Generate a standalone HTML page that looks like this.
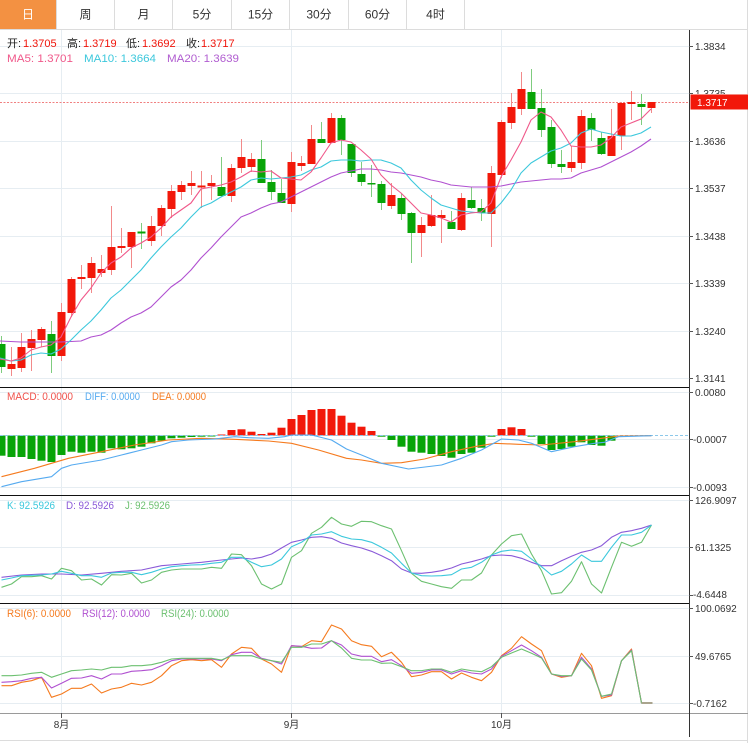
<!DOCTYPE html>
<html><head><meta charset="utf-8"><style>
html,body{margin:0;padding:0;background:#fff;width:748px;height:743px;overflow:hidden}
svg{display:block}
text{font-family:"Liberation Sans","Noto Sans CJK SC",sans-serif}
</style></head><body>
<svg width="748" height="743" viewBox="0 0 748 743" xmlns="http://www.w3.org/2000/svg">
<rect x="0" y="0" width="748" height="743" fill="#fff"/>
<!-- tabs -->
<rect x="0" y="0" width="56.5" height="29" fill="#f39142"/>
<g stroke="#dcdcdc" stroke-width="1">
<line x1="56.5" y1="0" x2="56.5" y2="29"/><line x1="114.5" y1="0" x2="114.5" y2="29"/><line x1="172.5" y1="0" x2="172.5" y2="29"/><line x1="231.5" y1="0" x2="231.5" y2="29"/><line x1="289.5" y1="0" x2="289.5" y2="29"/><line x1="348.5" y1="0" x2="348.5" y2="29"/><line x1="406.5" y1="0" x2="406.5" y2="29"/><line x1="464.5" y1="0" x2="464.5" y2="29"/>
<line x1="0" y1="29.5" x2="748" y2="29.5"/>
<line x1="747.5" y1="0" x2="747.5" y2="743"/>
<line x1="0" y1="740.5" x2="748" y2="740.5"/>
</g>
<g font-size="12" text-anchor="middle" fill="#333">
<text x="28" y="18.5" fill="#fff">日</text>
<text x="85.5" y="18.5">周</text>
<text x="143.5" y="18.5">月</text>
<text x="202" y="18.5">5分</text>
<text x="260.5" y="18.5">15分</text>
<text x="319" y="18.5">30分</text>
<text x="377.5" y="18.5">60分</text>
<text x="435.5" y="18.5">4时</text>
</g>
<!-- grid -->
<g stroke="#e6edf2" stroke-width="1">
<line x1="61.5" y1="30" x2="61.5" y2="713"/><line x1="291.5" y1="30" x2="291.5" y2="713"/><line x1="501.5" y1="30" x2="501.5" y2="713"/>
<line x1="0" y1="46.5" x2="689" y2="46.5"/><line x1="0" y1="93.5" x2="689" y2="93.5"/><line x1="0" y1="141.5" x2="689" y2="141.5"/><line x1="0" y1="188.5" x2="689" y2="188.5"/><line x1="0" y1="236.5" x2="689" y2="236.5"/><line x1="0" y1="283.5" x2="689" y2="283.5"/><line x1="0" y1="331.5" x2="689" y2="331.5"/><line x1="0" y1="378.5" x2="689" y2="378.5"/>
<line x1="0" y1="392.5" x2="689" y2="392.5"/><line x1="0" y1="439.5" x2="689" y2="439.5"/><line x1="0" y1="487.5" x2="689" y2="487.5"/>
<line x1="0" y1="500.5" x2="689" y2="500.5"/><line x1="0" y1="547.5" x2="689" y2="547.5"/><line x1="0" y1="595.5" x2="689" y2="595.5"/>
<line x1="0" y1="608.5" x2="689" y2="608.5"/><line x1="0" y1="656.5" x2="689" y2="656.5"/><line x1="0" y1="703.5" x2="689" y2="703.5"/>
</g>
<!-- header legend -->
<g font-size="11">
<text x="7" y="47" fill="#222">开:</text><text x="23" y="47" fill="#f0140a">1.3705</text>
<text x="67" y="47" fill="#222">高:</text><text x="83" y="47" fill="#f0140a">1.3719</text>
<text x="126" y="47" fill="#222">低:</text><text x="142" y="47" fill="#f0140a">1.3692</text>
<text x="186" y="47" fill="#222">收:</text><text x="201" y="47" fill="#f0140a">1.3717</text>
<text x="7" y="62" fill="#f0588a" textLength="66" lengthAdjust="spacingAndGlyphs">MA5: 1.3701</text>
<text x="84" y="62" fill="#3cc8dc" textLength="72" lengthAdjust="spacingAndGlyphs">MA10: 1.3664</text>
<text x="167" y="62" fill="#b05cd0" textLength="72" lengthAdjust="spacingAndGlyphs">MA20: 1.3639</text>
</g>
<!-- price line -->
<line x1="0" y1="102.5" x2="689" y2="102.5" stroke="#f08080" stroke-width="1" stroke-dasharray="2,1.5"/>
<!-- candle wicks -->
<g stroke-width="1">
<g stroke="#7fcc7f">
<line x1="1.5" y1="336" x2="1.5" y2="373"/><line x1="51.5" y1="321" x2="51.5" y2="373"/><line x1="141.5" y1="223" x2="141.5" y2="249"/><line x1="221.5" y1="157" x2="221.5" y2="197"/><line x1="261.5" y1="140" x2="261.5" y2="183"/><line x1="271.5" y1="170" x2="271.5" y2="200"/><line x1="281.5" y1="179" x2="281.5" y2="203"/><line x1="321.5" y1="122" x2="321.5" y2="143"/><line x1="341.5" y1="115" x2="341.5" y2="155"/><line x1="351.5" y1="144" x2="351.5" y2="177"/><line x1="361.5" y1="162" x2="361.5" y2="186"/><line x1="371.5" y1="165" x2="371.5" y2="197"/><line x1="381.5" y1="181" x2="381.5" y2="210"/><line x1="401.5" y1="193" x2="401.5" y2="220"/><line x1="411.5" y1="212" x2="411.5" y2="263"/><line x1="451.5" y1="211" x2="451.5" y2="229"/><line x1="471.5" y1="187" x2="471.5" y2="209"/><line x1="481.5" y1="199" x2="481.5" y2="221"/><line x1="531.5" y1="69" x2="531.5" y2="109"/><line x1="541.5" y1="89" x2="541.5" y2="137"/><line x1="551.5" y1="120" x2="551.5" y2="168"/><line x1="561.5" y1="150" x2="561.5" y2="173"/><line x1="591.5" y1="113" x2="591.5" y2="141"/><line x1="601.5" y1="132" x2="601.5" y2="155"/><line x1="641.5" y1="94" x2="641.5" y2="125"/>
</g>
<g stroke="#f28a8a">
<line x1="11.5" y1="347" x2="11.5" y2="376"/><line x1="21.5" y1="333" x2="21.5" y2="372"/><line x1="31.5" y1="330" x2="31.5" y2="371"/><line x1="41.5" y1="327" x2="41.5" y2="347"/><line x1="61.5" y1="303" x2="61.5" y2="361"/><line x1="71.5" y1="277" x2="71.5" y2="317"/><line x1="81.5" y1="265" x2="81.5" y2="289"/><line x1="91.5" y1="257" x2="91.5" y2="293"/><line x1="101.5" y1="255" x2="101.5" y2="277"/><line x1="111.5" y1="206" x2="111.5" y2="275"/><line x1="121.5" y1="228" x2="121.5" y2="253"/><line x1="131.5" y1="232" x2="131.5" y2="268"/><line x1="151.5" y1="216" x2="151.5" y2="246"/><line x1="161.5" y1="205" x2="161.5" y2="236"/><line x1="171.5" y1="185" x2="171.5" y2="218"/><line x1="181.5" y1="181" x2="181.5" y2="200"/><line x1="191.5" y1="171" x2="191.5" y2="195"/><line x1="201.5" y1="171" x2="201.5" y2="208"/><line x1="211.5" y1="175" x2="211.5" y2="200"/><line x1="231.5" y1="164" x2="231.5" y2="202"/><line x1="241.5" y1="139" x2="241.5" y2="173"/><line x1="251.5" y1="153" x2="251.5" y2="172"/><line x1="291.5" y1="152" x2="291.5" y2="212"/><line x1="301.5" y1="156" x2="301.5" y2="171"/><line x1="311.5" y1="125" x2="311.5" y2="164"/><line x1="331.5" y1="113" x2="331.5" y2="143"/><line x1="391.5" y1="183" x2="391.5" y2="209"/><line x1="421.5" y1="217" x2="421.5" y2="257"/><line x1="431.5" y1="195" x2="431.5" y2="227"/><line x1="441.5" y1="210" x2="441.5" y2="243"/><line x1="461.5" y1="193" x2="461.5" y2="231"/><line x1="491.5" y1="166" x2="491.5" y2="247"/><line x1="501.5" y1="120" x2="501.5" y2="178"/><line x1="511.5" y1="93" x2="511.5" y2="129"/><line x1="521.5" y1="72" x2="521.5" y2="115"/><line x1="571.5" y1="146" x2="571.5" y2="172"/><line x1="581.5" y1="110" x2="581.5" y2="169"/><line x1="611.5" y1="109" x2="611.5" y2="156"/><line x1="621.5" y1="102" x2="621.5" y2="150"/><line x1="631.5" y1="91" x2="631.5" y2="120"/><line x1="651.5" y1="102" x2="651.5" y2="113"/>
</g>
</g>
<!-- candle bodies -->
<g fill="#08a408">
<rect x="-2.5" y="344" width="8" height="23"/><rect x="47.5" y="334" width="8" height="22"/><rect x="137.5" y="231.5" width="8" height="2"/><rect x="217.5" y="187" width="8" height="9"/><rect x="257.5" y="159" width="8" height="24"/><rect x="267.5" y="182" width="8" height="10"/><rect x="277.5" y="193" width="8" height="10"/><rect x="317.5" y="139" width="8" height="4"/><rect x="337.5" y="118" width="8" height="22"/><rect x="347.5" y="144" width="8" height="29"/><rect x="357.5" y="174" width="8" height="8"/><rect x="367.5" y="183" width="8" height="1.5"/><rect x="377.5" y="184" width="8" height="19"/><rect x="397.5" y="198" width="8" height="16"/><rect x="407.5" y="213" width="8" height="20"/><rect x="447.5" y="222" width="8" height="7"/><rect x="467.5" y="200" width="8" height="8"/><rect x="477.5" y="208" width="8" height="5"/><rect x="527.5" y="92" width="8" height="17"/><rect x="537.5" y="108" width="8" height="22"/><rect x="547.5" y="127" width="8" height="37"/><rect x="557.5" y="164" width="8" height="3"/><rect x="587.5" y="118" width="8" height="12"/><rect x="597.5" y="138" width="8" height="16"/><rect x="637.5" y="104" width="8" height="3"/>
</g>
<g fill="#f2180a">
<rect x="7.5" y="364" width="8" height="5"/><rect x="17.5" y="347" width="8" height="21"/><rect x="27.5" y="339" width="8" height="9"/><rect x="37.5" y="329" width="8" height="11"/><rect x="57.5" y="312" width="8" height="44"/><rect x="67.5" y="279" width="8" height="34"/><rect x="77.5" y="277" width="8" height="2"/><rect x="87.5" y="263" width="8" height="15"/><rect x="97.5" y="269" width="8" height="4"/><rect x="107.5" y="247" width="8" height="23"/><rect x="117.5" y="246" width="8" height="2"/><rect x="127.5" y="232" width="8" height="15"/><rect x="147.5" y="226" width="8" height="15"/><rect x="157.5" y="208" width="8" height="18"/><rect x="167.5" y="191" width="8" height="18"/><rect x="177.5" y="185" width="8" height="7"/><rect x="187.5" y="183" width="8" height="3"/><rect x="197.5" y="185.5" width="8" height="2"/><rect x="207.5" y="183" width="8" height="3"/><rect x="227.5" y="168" width="8" height="28"/><rect x="237.5" y="157" width="8" height="11"/><rect x="247.5" y="159" width="8" height="8"/><rect x="287.5" y="162" width="8" height="42"/><rect x="297.5" y="163" width="8" height="3"/><rect x="307.5" y="139" width="8" height="25"/><rect x="327.5" y="118" width="8" height="25"/><rect x="387.5" y="195" width="8" height="11"/><rect x="417.5" y="225" width="8" height="8"/><rect x="427.5" y="215" width="8" height="11"/><rect x="437.5" y="215" width="8" height="3"/><rect x="457.5" y="198" width="8" height="32"/><rect x="487.5" y="173" width="8" height="41"/><rect x="497.5" y="122" width="8" height="53"/><rect x="507.5" y="107" width="8" height="16"/><rect x="517.5" y="89" width="8" height="20"/><rect x="567.5" y="162" width="8" height="6"/><rect x="577.5" y="116" width="8" height="47"/><rect x="607.5" y="136" width="8" height="20"/><rect x="617.5" y="103" width="8" height="33"/><rect x="627.5" y="102" width="8" height="2"/><rect x="647.5" y="102" width="8" height="6"/>
</g>
<!-- MA lines -->
<g fill="none" stroke-width="1.1" stroke-linejoin="round">
<polyline stroke="#b050d0" points="0,341 21,342 41,342 61,342 81,341 91,337 101,335 111,330 121,323 131,317 141,313 151,307 161,297 171,287 181,280 191,270 201,258 211,248 221,237 231,227 241,217 251,213 261,208 271,204 281,202 291,197 301,192 311,187 321,182 331,177 341,173 351,171 361,169 371,169 381,170 391,172 401,173 411,175 421,177 431,180 441,182 451,185 461,186 471,187 481,187 491,187 501,186 511,184 521,182 531,181 541,180 551,179 561,179 571,178 581,173 591,170 601,167 611,162 621,157 631,152 641,146 651,139"/>
<polyline stroke="#3cc8dc" points="0,358 11,361 21,360 31,355 41,353 51,354 61,349 71,340 81,330 91,321 101,310 111,298 121,290 131,280 141,270 151,258 161,247 171,237 181,228 191,217 201,207 211,203 221,197 231,192 241,187 251,180 261,178 271,179 281,178 291,177 301,175 311,170 321,167 331,161 341,160 351,160 361,161 371,160 381,160 391,163 401,168 411,180 421,190 431,198 441,205 451,208 461,211 471,212 481,213 491,213 501,203 511,190 521,173 531,163 541,157 551,151 561,148 571,143 581,133 591,129 601,132 611,134 621,136 631,136 641,133 651,127"/>
<polyline stroke="#f0588a" points="0,359 11,361 21,358 31,350 41,347 51,345 61,337 71,317 81,300 91,288 101,273 111,263 121,257 131,248 141,243 151,237 161,228 171,217 181,210 191,203 201,189 211,187 221,185 231,182 241,177 251,171 261,172 271,171 281,178 291,179 301,180 311,172 321,158 331,143 341,140 351,142 361,150 371,159 381,175 391,185 401,193 411,203 421,213 431,215 441,218 451,222 461,215 471,213 481,212 491,203 501,177 511,160 521,142 531,120 541,112 551,117 561,130 571,146 581,147 591,147 601,145 611,138 621,127 631,123 641,119 651,109"/>
</g>
<!-- MACD -->
<g fill="#08a408">
<rect x="-2.5" y="435.5" width="8" height="20.2"/><rect x="7.5" y="435.5" width="8" height="21.5"/><rect x="17.5" y="435.5" width="8" height="21.5"/><rect x="27.5" y="435.5" width="8" height="23.5"/><rect x="37.5" y="435.5" width="8" height="25.2"/><rect x="47.5" y="435.5" width="8" height="26.5"/><rect x="57.5" y="435.5" width="8" height="19.5"/><rect x="67.5" y="435.5" width="8" height="16.2"/><rect x="77.5" y="435.5" width="8" height="17.2"/><rect x="87.5" y="435.5" width="8" height="16.2"/><rect x="97.5" y="435.5" width="8" height="17.2"/><rect x="107.5" y="435.5" width="8" height="12.8"/><rect x="117.5" y="435.5" width="8" height="13.8"/><rect x="127.5" y="435.5" width="8" height="12.8"/><rect x="137.5" y="435.5" width="8" height="11.2"/><rect x="147.5" y="435.5" width="8" height="7.8"/><rect x="157.5" y="435.5" width="8" height="5.2"/><rect x="167.5" y="435.5" width="8" height="2.8"/><rect x="177.5" y="435.5" width="8" height="2.2"/><rect x="187.5" y="435.5" width="8" height="1.5"/><rect x="197.5" y="435.5" width="8" height="1.2"/><rect x="207.5" y="435.5" width="8" height="1"/>
<rect x="377.5" y="435.5" width="8" height="1.2"/><rect x="387.5" y="435.5" width="8" height="4.5"/><rect x="397.5" y="435.5" width="8" height="11.2"/><rect x="407.5" y="435.5" width="8" height="16.2"/><rect x="417.5" y="435.5" width="8" height="17.2"/><rect x="427.5" y="435.5" width="8" height="18.5"/><rect x="437.5" y="435.5" width="8" height="20.5"/><rect x="447.5" y="435.5" width="8" height="22.2"/><rect x="457.5" y="435.5" width="8" height="18.5"/><rect x="467.5" y="435.5" width="8" height="17.2"/><rect x="477.5" y="435.5" width="8" height="12.2"/><rect x="487.5" y="435.5" width="8" height="1.2"/>
<rect x="527.5" y="435.5" width="8" height="1.2"/><rect x="537.5" y="435.5" width="8" height="8.5"/><rect x="547.5" y="435.5" width="8" height="14.5"/><rect x="557.5" y="435.5" width="8" height="13.5"/><rect x="567.5" y="435.5" width="8" height="11.2"/><rect x="577.5" y="435.5" width="8" height="6.8"/><rect x="587.5" y="435.5" width="8" height="9.5"/><rect x="597.5" y="435.5" width="8" height="10.2"/><rect x="607.5" y="435.5" width="8" height="5.2"/>
</g>
<g fill="#f2180a">
<rect x="217.5" y="434.5" width="8" height="1"/><rect x="227.5" y="430" width="8" height="5.5"/><rect x="237.5" y="429.3" width="8" height="6.2"/><rect x="247.5" y="431.7" width="8" height="3.8"/><rect x="257.5" y="434" width="8" height="1.5"/><rect x="267.5" y="432.7" width="8" height="2.8"/><rect x="277.5" y="427.7" width="8" height="7.8"/><rect x="287.5" y="419" width="8" height="16.5"/><rect x="297.5" y="415" width="8" height="20.5"/><rect x="307.5" y="410" width="8" height="25.5"/><rect x="317.5" y="409" width="8" height="26.5"/><rect x="327.5" y="409" width="8" height="26.5"/><rect x="337.5" y="415.7" width="8" height="19.8"/><rect x="347.5" y="422.7" width="8" height="12.8"/><rect x="357.5" y="426.7" width="8" height="8.8"/><rect x="367.5" y="431" width="8" height="4.5"/>
<rect x="497.5" y="429" width="8" height="6.5"/><rect x="507.5" y="427.3" width="8" height="8.2"/><rect x="517.5" y="429" width="8" height="6.5"/>
</g>
<line x1="0" y1="435.5" x2="689" y2="435.5" stroke="#8cc8ea" stroke-width="1" stroke-dasharray="3,2"/>
<g fill="none" stroke-width="1.1" stroke-linejoin="round" transform="translate(1.5,0)">
<polyline stroke="#f57a1e" points="0,476.7 33,468.3 67,458.3 100,451.7 133,445 167,440 200,438.3 233,439.3 267,441 290,443.3 317,450 345,458.3 360,460 380,463.3 400,462.7 423,459 450,451.7 473,446.7 493,443.3 517,444.3 540,445 573,441.7 600,438.3 617,436 650,435.7"/>
<polyline stroke="#55aaf0" points="0,486.7 20,481.7 50,476.7 60,468.3 70,465 100,460 120,455 140,450 160,445 170,441.7 187,440 213,439 233,436.7 247,437.7 267,438.3 283,436.7 290,435 310,435 330,440 345,449 360,455 380,463.3 407,469 440,465 460,458.3 480,450 500,439 517,440 530,443.3 550,451.7 573,446.7 593,443.3 603,442.3 617,436.7 650,435.7"/>
</g>
<g font-size="11">
<text x="7" y="400" fill="#f0504a" textLength="66" lengthAdjust="spacingAndGlyphs">MACD: 0.0000</text>
<text x="85" y="400" fill="#55aaf0" textLength="55" lengthAdjust="spacingAndGlyphs">DIFF: 0.0000</text>
<text x="152" y="400" fill="#f57a1e" textLength="54" lengthAdjust="spacingAndGlyphs">DEA: 0.0000</text>
</g>
<!-- KDJ -->
<g fill="none" stroke-width="1.1" stroke-linejoin="round" transform="translate(1.5,0)">
<polyline stroke="#6cc070" points="0,587.3 10,584 20,576.7 30,576.7 40,575.7 50,579 60,568.3 70,570.7 80,580 90,579 100,585 110,574.7 120,575 130,573.3 140,583 150,580 160,572.3 170,570 180,569 190,569 200,569 210,567.3 220,568.3 230,554 240,554.7 250,565.7 260,584 270,589 280,584 290,557.3 300,550.7 310,533.3 320,527.3 330,517.3 340,524 350,526.3 360,521.3 370,521.7 380,525.7 390,529 400,550.7 410,573.3 420,581.3 430,584 440,586.7 450,588.3 460,580 470,580 480,573 490,555 500,544 510,535.7 520,534 530,554 540,570.7 550,594 560,592.7 570,581.3 580,561.7 590,584 600,593 610,567.3 620,542.3 630,546.3 640,542.3 650,525"/>
<polyline stroke="#8a5ad8" points="0,577.3 20,575 40,574 60,574 80,575 100,573.3 120,571.3 140,570 160,565.7 180,564 200,562.3 220,560 240,558 250,559 260,557.3 270,554 280,548 290,542.3 300,540 310,537.3 320,536.7 330,538.3 340,543 350,545.7 360,548 370,551.3 380,555.7 390,560.7 400,569 410,573 420,573.3 430,572.3 440,570.7 450,568 460,564 470,561.7 480,559 490,555.7 500,555 510,555.7 520,558.3 530,562.3 540,565.7 550,565.7 560,560.7 570,556.3 580,552.3 590,550 600,545.7 610,537.3 620,532.3 630,530.7 640,528.3 650,525"/>
<polyline stroke="#3cc8dc" points="0,580 10,578 20,575.7 40,575 50,574 60,571.3 70,573.3 80,575.7 90,575.7 100,577.3 110,573 120,572.3 130,572.3 140,574.7 150,572.3 160,569 170,566.7 180,565.7 190,565 200,564.7 210,563.3 220,562.3 230,557.3 240,557.3 250,562.3 260,566.7 270,565 280,559 290,546.7 300,542.3 310,535 320,534 330,531.7 340,536.3 350,539 360,539.7 370,542.3 380,547.3 390,553 400,563.3 410,573 420,575.7 430,576 440,575.7 450,574.7 460,569 470,567.3 480,562.3 490,555 500,551.3 510,550 520,551.3 530,559 540,566.7 550,575 560,571.3 570,564 580,555 590,561.3 600,561.3 610,547.3 620,535 630,535 640,532.3 650,525"/>
</g>
<g font-size="11">
<text x="7" y="509" fill="#3cc8dc" textLength="48" lengthAdjust="spacingAndGlyphs">K: 92.5926</text>
<text x="66" y="509" fill="#8a5ad8" textLength="48" lengthAdjust="spacingAndGlyphs">D: 92.5926</text>
<text x="125" y="509" fill="#6cc070" textLength="45" lengthAdjust="spacingAndGlyphs">J: 92.5926</text>
</g>
<!-- RSI -->
<g fill="none" stroke-width="1.1" stroke-linejoin="round" transform="translate(1.5,0)">
<polyline stroke="#f57a1e" points="0,685.7 10,685.7 20,682.3 30,680.7 40,677.3 50,697.3 60,694 70,688.3 80,688.3 90,684 100,693 110,689 120,687.3 130,683.3 140,685 150,682.3 160,675.7 170,665.7 180,660.7 190,659.7 200,660.7 210,659.7 220,667.3 230,654 240,647.3 250,648.3 260,659 270,664 280,672.3 290,645.7 300,646.7 310,640.7 320,641.7 330,625 340,629 350,640.7 360,644.7 370,646.3 380,656.7 390,652.3 400,662.3 410,676.7 420,675 430,671.7 440,671.7 450,679 460,673 470,677.3 480,680.7 490,672.3 500,655.7 510,648.3 520,636.7 530,644 540,650.7 550,674 560,677.3 570,675.7 580,653.3 590,665.7 600,698.3 610,695.7 620,660.7 630,649 640,703 650,703"/>
<polyline stroke="#b050d0" points="0,682.3 10,681.7 20,680.7 30,678.3 40,677.3 50,688 60,683.3 70,678.3 80,678 90,675.7 100,679 110,674 120,674 130,671.3 140,670.7 150,669.7 160,665.7 170,660.7 180,659 190,659 200,659 210,659 220,660.7 230,654.7 240,652.3 250,652.3 260,658.3 270,660.7 280,664 290,645.7 300,646.3 310,648.3 320,648 330,640.7 340,645 350,654 360,656.3 370,656.3 380,661.7 390,659.7 400,665.7 410,673.3 420,672.3 430,670 440,670 450,674 460,670.7 470,673 480,674 490,669 500,656.3 510,650.7 520,645 530,650.7 540,657.3 550,674 560,676.3 570,675.7 580,657.3 590,669 600,696.3 610,695 620,660.7 630,650 640,703 650,703"/>
<polyline stroke="#6cc070" points="0,675.7 10,675.7 20,675 30,673.3 40,672.3 50,677.3 60,674 70,670.7 80,670 90,669 100,670 110,667.3 120,667.3 130,665.7 140,665.7 150,664.7 160,662.3 170,659 180,658.3 190,658.3 200,658.3 210,658.3 220,660 230,655.7 240,655.7 250,655.7 260,659 270,660.7 280,662.3 290,647.3 300,647.3 310,644 320,644 330,640.7 340,648 350,658.3 360,660 370,660 380,663.3 390,663 400,666.7 410,670.7 420,670.7 430,669 440,669 450,672.3 460,669 470,670.7 480,671.7 490,666.7 500,657.3 510,653 520,649 530,653.3 540,658 550,674 560,675.7 570,675.7 580,659 590,670 600,696.3 610,694 620,660.7 630,650.7 640,703 650,703"/>
<line x1="640" y1="703" x2="651" y2="703" stroke="#aaa48e" stroke-width="2"/>
</g>
<g font-size="11">
<text x="7" y="617" fill="#f57a1e" textLength="64" lengthAdjust="spacingAndGlyphs">RSI(6): 0.0000</text>
<text x="82" y="617" fill="#b050d0" textLength="68" lengthAdjust="spacingAndGlyphs">RSI(12): 0.0000</text>
<text x="161" y="617" fill="#6cc070" textLength="68" lengthAdjust="spacingAndGlyphs">RSI(24): 0.0000</text>
</g>
<!-- panel separators & axes -->
<g stroke="#111" stroke-width="1">
<line x1="0" y1="387.5" x2="689" y2="387.5"/>
<line x1="0" y1="495.5" x2="689" y2="495.5"/>
<line x1="0" y1="603.5" x2="689" y2="603.5"/>
</g>
<line x1="0" y1="713.5" x2="748" y2="713.5" stroke="#9a9a9a" stroke-width="1"/>
<line x1="689.5" y1="30" x2="689.5" y2="737" stroke="#333" stroke-width="1"/>
<g stroke="#555" stroke-width="1">
<line x1="689" y1="46.5" x2="693" y2="46.5"/><line x1="689" y1="93.5" x2="693" y2="93.5"/><line x1="689" y1="141.5" x2="693" y2="141.5"/><line x1="689" y1="188.5" x2="693" y2="188.5"/><line x1="689" y1="236.5" x2="693" y2="236.5"/><line x1="689" y1="283.5" x2="693" y2="283.5"/><line x1="689" y1="331.5" x2="693" y2="331.5"/><line x1="689" y1="378.5" x2="693" y2="378.5"/>
<line x1="689" y1="392.5" x2="693" y2="392.5"/><line x1="689" y1="439.5" x2="693" y2="439.5"/><line x1="689" y1="487.5" x2="693" y2="487.5"/>
<line x1="689" y1="500.5" x2="693" y2="500.5"/><line x1="689" y1="547.5" x2="693" y2="547.5"/><line x1="689" y1="595.5" x2="693" y2="595.5"/>
<line x1="689" y1="608.5" x2="693" y2="608.5"/><line x1="689" y1="656.5" x2="693" y2="656.5"/><line x1="689" y1="703.5" x2="693" y2="703.5"/>
<line x1="61.5" y1="713" x2="61.5" y2="718"/><line x1="291.5" y1="713" x2="291.5" y2="718"/><line x1="501.5" y1="713" x2="501.5" y2="718"/>
</g>
<g font-size="10" fill="#333">
<text x="695" y="50">1.3834</text>
<text x="695" y="97">1.3735</text>
<text x="695" y="145">1.3636</text>
<text x="695" y="192">1.3537</text>
<text x="695" y="240">1.3438</text>
<text x="695" y="287">1.3339</text>
<text x="695" y="335">1.3240</text>
<text x="695" y="382">1.3141</text>
<text x="695" y="396">0.0080</text>
<text x="693" y="443">-0.0007</text>
<text x="693" y="491">-0.0093</text>
<text x="695" y="504">126.9097</text>
<text x="695" y="551">61.1325</text>
<text x="693" y="598">-4.6448</text>
<text x="695" y="612">100.0692</text>
<text x="695" y="660">49.6765</text>
<text x="693" y="707">-0.7162</text>
</g>
<rect x="690.5" y="94.5" width="57.5" height="15" fill="#f2180a"/>
<line x1="690.5" y1="94.5" x2="748" y2="94.5" stroke="#f48a80" stroke-width="1"/>
<text x="697" y="106" font-size="10" fill="#fff">1.3717</text>
<g font-size="10" fill="#333" text-anchor="middle">
<text x="61.5" y="728">8月</text>
<text x="291.5" y="728">9月</text>
<text x="501.5" y="728">10月</text>
</g>
</svg>
</body></html>
